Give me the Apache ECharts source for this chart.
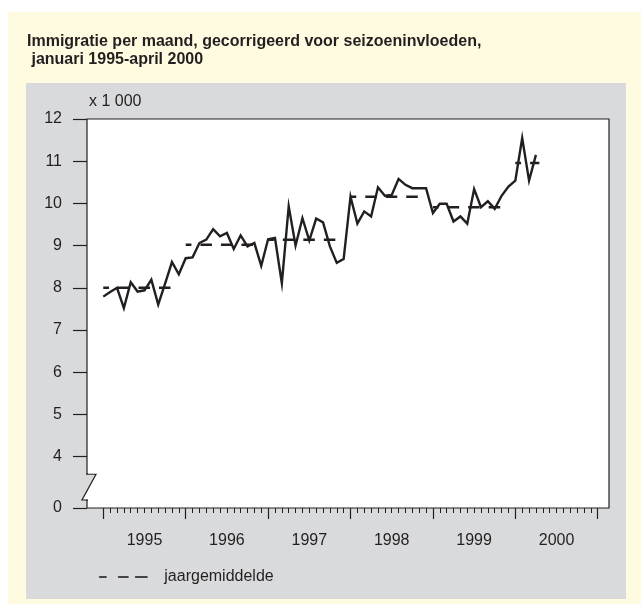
<!DOCTYPE html>
<html><head><meta charset="utf-8">
<script src="https://cdn.jsdelivr.net/npm/echarts@6/dist/echarts.min.js"></script>
<style>
html,body{margin:0;padding:0;background:#fff;}
#yellow{position:absolute;left:8px;top:12px;width:633px;height:592px;background:#fffbe1;}
#gray{position:absolute;left:26px;top:83px;width:600px;height:516px;background:#d9dadc;}
#chart{position:absolute;left:0;top:0;width:641px;height:604px;}
</style></head><body>
<div id="yellow"></div><div id="gray"></div><div id="chart"></div>
<script>
// ---- data ----
const titleLines = ['Immigratie per maand, gecorrigeerd voor seizoeninvloeden,', ' januari 1995-april 2000'];
const yearLabels = ['1995', '1996', '1997', '1998', '1999', '2000'];
// monthly immigration (x 1 000), januari 1995 - april 2000
const values1995 = [7.79, 7.90, 8.00, 7.52, 8.13, 7.91, 7.94, 8.19, 7.60, 8.10, 8.61, 8.32];
const values1996 = [8.70, 8.72, 9.06, 9.14, 9.39, 9.22, 9.30, 8.92, 9.24, 8.98, 9.06, 8.52];
const values1997 = [9.15, 9.18, 8.11, 9.93, 9.00, 9.65, 9.12, 9.64, 9.55, 8.98, 8.59, 8.68];
const values1998 = [10.16, 9.52, 9.81, 9.69, 10.38, 10.18, 10.20, 10.58, 10.44, 10.36, 10.36, 10.36];
const values1999 = [9.77, 9.99, 9.99, 9.57, 9.69, 9.52, 10.34, 9.91, 10.05, 9.87, 10.18, 10.40];
const values2000 = [10.54, 11.55, 10.54, 11.15];
// year averages (jaargemiddelde) and their span in months since jan 1995
const avgValues = [8.00, 9.02, 9.14, 10.16, 9.91, 10.96];
const avgStart = [0, 12, 24, 36, 48, 60];
const avgEnd = [9.8, 21.8, 33.8, 45.8, 57.8, 63.5];
// y axis ticks
const yTickValues = [4, 5, 6, 7, 8, 9, 10, 11, 12];
const yZeroValue = 2.78;        // position shown as "0" below the axis break
const yBreakTop = 3.58, yBreakBottom = 2.97;

// ---- build ----
const INK = '#231f20';
const GRAY = '#d9dadc';
const FONT = 'Arial, "Liberation Sans", Helvetica, sans-serif';
const values = [].concat(values1995, values1996, values1997, values1998, values1999, values2000);
const lineData = values.map((v, i) => [i, v]);
const avgData = [];
avgValues.forEach((v, k) => {
  avgData.push([avgStart[k], v], [avgEnd[k], v], [avgEnd[k] + 0.1, '-']);
});
const monthTicks = [];
for (let m = 0; m <= 72; m++) monthTicks.push(m);
const yearTicks = [];
for (let m = 0; m <= 72; m += 12) yearTicks.push(m);
const yearLabelPos = yearLabels.map((_, k) => 12 * k + 6);
const xMin = -2.37, xMax = 73.64;
const yAll = [yZeroValue].concat(yTickValues);

const chart = echarts.init(document.getElementById('chart'), null, {renderer: 'canvas'});
const option = {
  animation: false,
  backgroundColor: 'transparent',
  textStyle: {fontFamily: FONT},
  title: {
    text: titleLines.join('\n'), left: 27, top: 33, padding: 0,
    textStyle: {fontFamily: FONT, fontSize: 16, fontWeight: 'bold', color: INK, lineHeight: 18}
  },
  legend: {
    data: [{name: 'jaargemiddelde', icon: 'path://M0,0H7V1H0Z M19,0H29V1H19Z M36,0H48V1H36Z'}],
    left: 99, top: 569, padding: 0,
    itemWidth: 48, itemHeight: 3,
    itemStyle: {color: INK, borderColor: INK, borderWidth: 0.6, opacity: 1},
    textStyle: {fontFamily: FONT, fontSize: 16, color: INK, padding: [0, 0, 0, 12]}
  },
  grid: {
    left: 87, top: 119, right: 32, bottom: 96, show: true,
    backgroundColor: '#fff', borderColor: INK, borderWidth: 1.2
  },
  xAxis: [
    {
      type: 'value', min: xMin, max: xMax, position: 'bottom',
      axisLine: {show: false, onZero: false}, splitLine: {show: false}, axisLabel: {show: false},
      axisTick: {show: true, customValues: monthTicks, length: 5, lineStyle: {color: INK, width: 1}}
    },
    {
      type: 'value', min: xMin, max: xMax, position: 'bottom',
      axisLine: {show: false, onZero: false}, splitLine: {show: false},
      axisTick: {show: true, customValues: yearTicks, length: 11, lineStyle: {color: INK, width: 1.2}},
      axisLabel: {
        show: true, customValues: yearLabelPos,
        formatter: v => yearLabels[Math.round((v - 6) / 12)],
        fontFamily: FONT, fontSize: 16, color: INK, margin: 25
      }
    }
  ],
  yAxis: {
    type: 'value', min: yZeroValue, max: 12, position: 'left',
    name: 'x 1 000', nameLocation: 'end', nameGap: 17,
    nameTextStyle: {fontFamily: FONT, fontSize: 16, color: INK, align: 'left', verticalAlign: 'middle', padding: [0, 0, 0, 2]},
    axisLine: {show: false, onZero: false}, splitLine: {show: false},
    axisTick: {show: true, inside: false, customValues: yAll, length: 14, lineStyle: {color: INK, width: 1.2}},
    axisLabel: {
      show: true, customValues: yAll,
      formatter: v => (v < 4 ? '0' : String(v)),
      fontFamily: FONT, fontSize: 16, color: INK, margin: 25
    }
  },
  series: [
    {
      type: 'line', name: 'Immigratie', data: lineData, xAxisIndex: 0,
      showSymbol: false, symbol: 'none', z: 3,
      lineStyle: {color: INK, width: 2.4, join: 'miter', miterLimit: 10},
      itemStyle: {color: INK}
    },
    {
      type: 'line', name: 'jaargemiddelde', data: avgData, xAxisIndex: 0,
      showSymbol: false, symbol: 'none', connectNulls: false, z: 2,
      lineStyle: {color: INK, width: 2.5, type: [11.5, 9], dashOffset: 5.75, cap: 'butt'},
      itemStyle: {color: INK}
    }
  ]
};
chart.setOption(option);

// axis break zigzag on the y axis
const pTop = chart.convertToPixel({gridIndex: 0}, [xMin, yBreakTop]);
const pBot = chart.convertToPixel({gridIndex: 0}, [xMin, yBreakBottom]);
const x0 = pTop[0], y1 = pTop[1], y2 = pBot[1];
const jogR = 9, jogL = 5;
const yAt = dx => y1 + (jogR - dx) / (jogR + jogL) * (y2 - y1);
chart.setOption({
  graphic: [
    {type: 'polygon', z: 100, silent: true,
      shape: {points: [[x0 - 1.5, y1 + 0.6], [x0 + jogR, y1 + 0.6], [x0 - 1.5, yAt(-1.5)]]},
      style: {fill: GRAY}},
    {type: 'polygon', z: 100, silent: true,
      shape: {points: [[x0 + 1.5, yAt(1.5)], [x0 - jogL, y2 - 0.6], [x0 + 1.5, y2 - 0.6]]},
      style: {fill: '#fff'}},
    {type: 'polyline', z: 101, silent: true,
      shape: {points: [[x0, y1 - 1], [x0, y1], [x0 + jogR, y1], [x0 - jogL, y2], [x0, y2], [x0, y2 + 1]]},
      style: {stroke: INK, lineWidth: 1.2, fill: null}}
  ]
});
</script></body></html>
